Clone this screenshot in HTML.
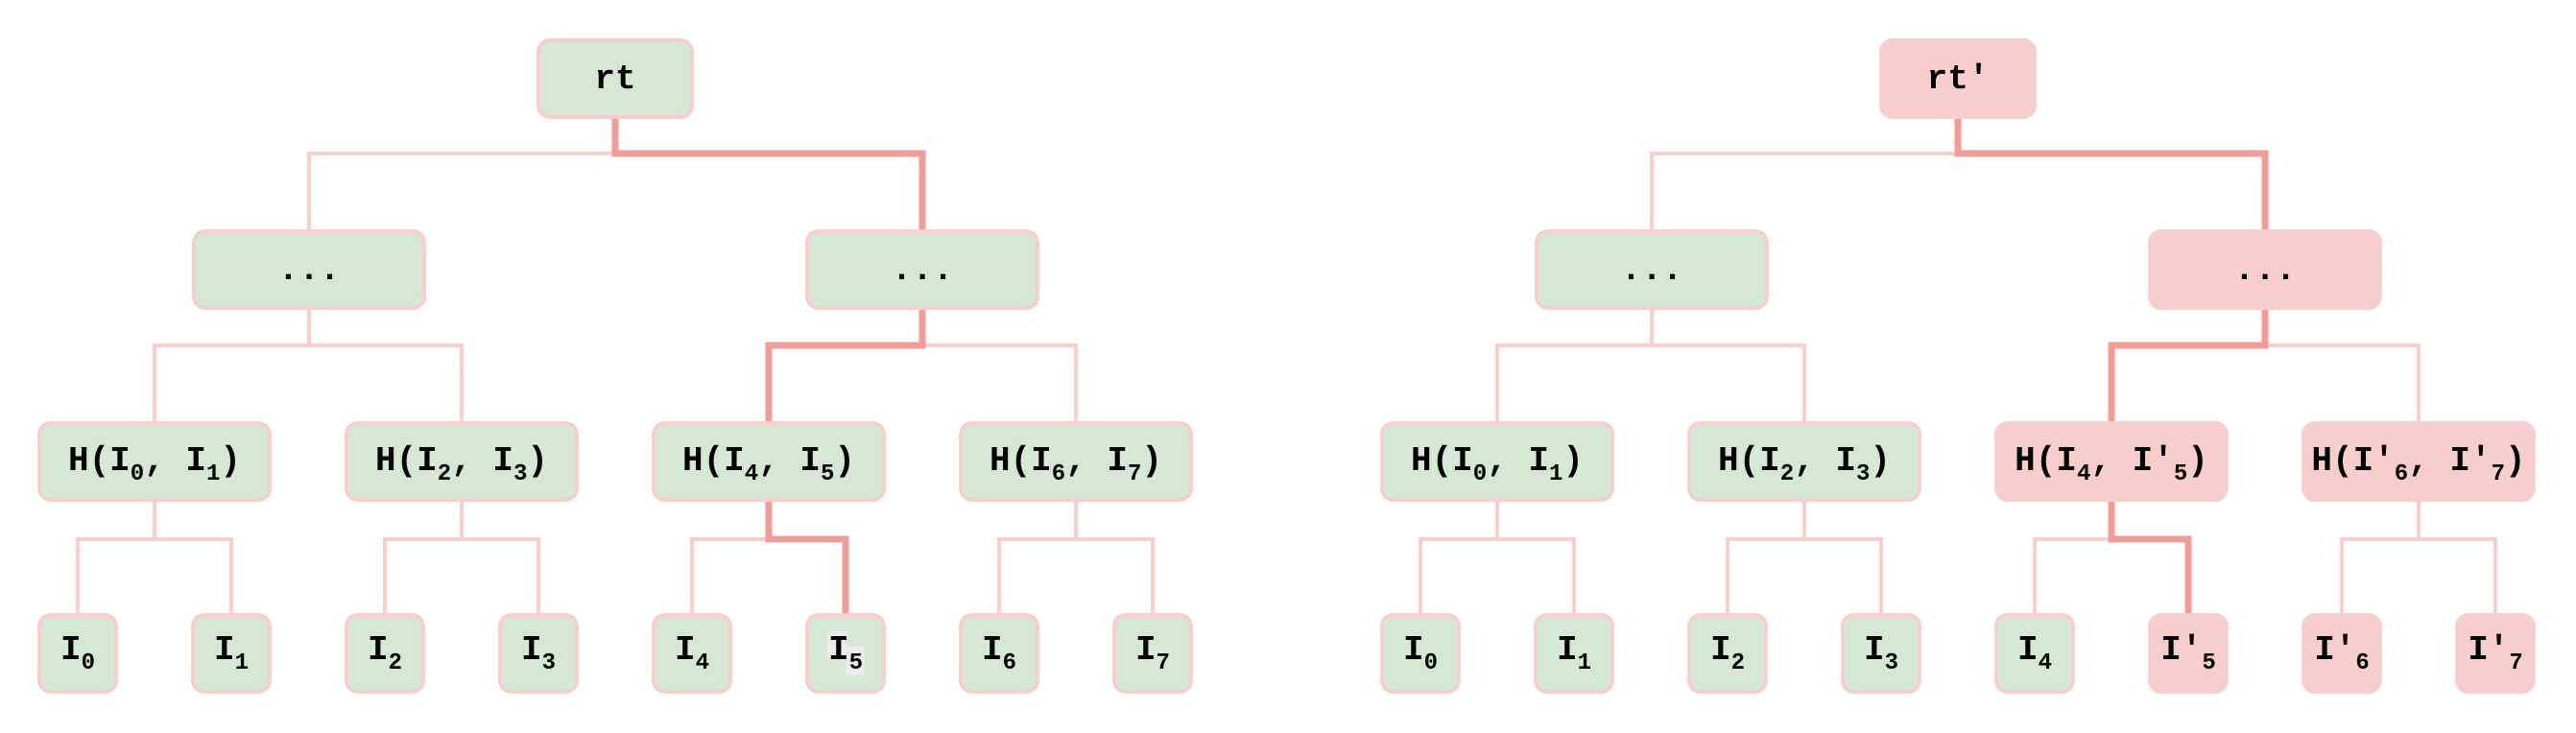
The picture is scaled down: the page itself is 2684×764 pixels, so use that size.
<!DOCTYPE html>
<html><head><meta charset="utf-8"><style>
html,body{margin:0;padding:0;background:#fff;}
svg{display:block;}
text{font-family:"Liberation Mono",monospace;font-weight:bold;font-size:36px;fill:#000;}
.s{font-size:24px;}
</style></head><body>
<svg width="2684" height="764" viewBox="0 0 2684 764" xmlns="http://www.w3.org/2000/svg">
<defs>
<g id="thin" fill="none" stroke="#f8cecc" stroke-width="4">
<path d="M641 122V160H322V241M641 160H961V241"/>
<path d="M322 321V360H161V441M322 360H481V441"/>
<path d="M961 321V360H801V441M961 360H1121V441"/>
<path d="M161 521V562H81V641M161 562H241V641"/>
<path d="M481 521V562H401V641M481 562H561V641"/>
<path d="M801 521V562H721V641M801 562H881V641"/>
<path d="M1121 521V562H1041V641M1121 562H1201V641"/>
</g>
<path id="thick" d="M641 122V160H961V241M961 321V360H801V441M801 521V562H881V641" fill="none" stroke="#f19c99" stroke-width="7"/>
</defs>
<use href="#thin"/><use href="#thick"/>
<use href="#thin" x="1399"/><use href="#thick" x="1399"/>
<g stroke="#f8cecc" stroke-width="4">
<!-- left tree -->
<rect x="561" y="42" width="160" height="80" rx="12" fill="#d5e8d4"/>
<rect x="202" y="241" width="240" height="80" rx="12" fill="#d5e8d4"/>
<rect x="841" y="241" width="240" height="80" rx="12" fill="#d5e8d4"/>
<rect x="41" y="441" width="240" height="80" rx="12" fill="#d5e8d4"/>
<rect x="361" y="441" width="240" height="80" rx="12" fill="#d5e8d4"/>
<rect x="681" y="441" width="240" height="80" rx="12" fill="#d5e8d4"/>
<rect x="1001" y="441" width="240" height="80" rx="12" fill="#d5e8d4"/>
<rect x="41" y="641" width="80" height="80" rx="12" fill="#d5e8d4"/>
<rect x="201" y="641" width="80" height="80" rx="12" fill="#d5e8d4"/>
<rect x="361" y="641" width="80" height="80" rx="12" fill="#d5e8d4"/>
<rect x="521" y="641" width="80" height="80" rx="12" fill="#d5e8d4"/>
<rect x="681" y="641" width="80" height="80" rx="12" fill="#d5e8d4"/>
<rect x="841" y="641" width="80" height="80" rx="12" fill="#d5e8d4"/>
<rect x="1001" y="641" width="80" height="80" rx="12" fill="#d5e8d4"/>
<rect x="1161" y="641" width="80" height="80" rx="12" fill="#d5e8d4"/>
<!-- right tree -->
<rect x="1960" y="42" width="160" height="80" rx="12" fill="#f8cecc"/>
<rect x="1601" y="241" width="240" height="80" rx="12" fill="#d5e8d4"/>
<rect x="2240" y="241" width="240" height="80" rx="12" fill="#f8cecc"/>
<rect x="1440" y="441" width="240" height="80" rx="12" fill="#d5e8d4"/>
<rect x="1760" y="441" width="240" height="80" rx="12" fill="#d5e8d4"/>
<rect x="2080" y="441" width="240" height="80" rx="12" fill="#f8cecc"/>
<rect x="2400" y="441" width="240" height="80" rx="12" fill="#f8cecc"/>
<rect x="1440" y="641" width="80" height="80" rx="12" fill="#d5e8d4"/>
<rect x="1600" y="641" width="80" height="80" rx="12" fill="#d5e8d4"/>
<rect x="1760" y="641" width="80" height="80" rx="12" fill="#d5e8d4"/>
<rect x="1920" y="641" width="80" height="80" rx="12" fill="#d5e8d4"/>
<rect x="2080" y="641" width="80" height="80" rx="12" fill="#d5e8d4"/>
<rect x="2240" y="641" width="80" height="80" rx="12" fill="#f8cecc"/>
<rect x="2400" y="641" width="80" height="80" rx="12" fill="#f8cecc"/>
<rect x="2560" y="641" width="80" height="80" rx="12" fill="#f8cecc"/>
</g>
<rect x="862" y="658" width="21" height="29" fill="#ebebeb"/>
<rect x="881" y="674" width="20" height="30" fill="#ebebeb"/>
<g text-anchor="middle">
<text x="641" y="92">rt</text>
<text x="322" y="291">...</text>
<text x="961" y="291">...</text>
<text x="161" y="490">H(I<tspan class="s" dy="10">0</tspan><tspan dy="-10">, I</tspan><tspan class="s" dy="10">1</tspan><tspan dy="-10">)</tspan></text>
<text x="481" y="490">H(I<tspan class="s" dy="10">2</tspan><tspan dy="-10">, I</tspan><tspan class="s" dy="10">3</tspan><tspan dy="-10">)</tspan></text>
<text x="801" y="490">H(I<tspan class="s" dy="10">4</tspan><tspan dy="-10">, I</tspan><tspan class="s" dy="10">5</tspan><tspan dy="-10">)</tspan></text>
<text x="1121" y="490">H(I<tspan class="s" dy="10">6</tspan><tspan dy="-10">, I</tspan><tspan class="s" dy="10">7</tspan><tspan dy="-10">)</tspan></text>
<text x="81" y="687">I<tspan class="s" dy="10">0</tspan></text>
<text x="241" y="687">I<tspan class="s" dy="10">1</tspan></text>
<text x="401" y="687">I<tspan class="s" dy="10">2</tspan></text>
<text x="561" y="687">I<tspan class="s" dy="10">3</tspan></text>
<text x="721" y="687">I<tspan class="s" dy="10">4</tspan></text>
<text x="881" y="687">I<tspan class="s" dy="10">5</tspan></text>
<text x="1041" y="687">I<tspan class="s" dy="10">6</tspan></text>
<text x="1201" y="687">I<tspan class="s" dy="10">7</tspan></text>

<text x="2040" y="92">rt'</text>
<text x="1721" y="291">...</text>
<text x="2360" y="291">...</text>
<text x="1560" y="490">H(I<tspan class="s" dy="10">0</tspan><tspan dy="-10">, I</tspan><tspan class="s" dy="10">1</tspan><tspan dy="-10">)</tspan></text>
<text x="1880" y="490">H(I<tspan class="s" dy="10">2</tspan><tspan dy="-10">, I</tspan><tspan class="s" dy="10">3</tspan><tspan dy="-10">)</tspan></text>
<text x="2200" y="490">H(I<tspan class="s" dy="10">4</tspan><tspan dy="-10">, I'</tspan><tspan class="s" dy="10">5</tspan><tspan dy="-10">)</tspan></text>
<text x="2520" y="490">H(I'<tspan class="s" dy="10">6</tspan><tspan dy="-10">, I'</tspan><tspan class="s" dy="10">7</tspan><tspan dy="-10">)</tspan></text>
<text x="1480" y="687">I<tspan class="s" dy="10">0</tspan></text>
<text x="1640" y="687">I<tspan class="s" dy="10">1</tspan></text>
<text x="1800" y="687">I<tspan class="s" dy="10">2</tspan></text>
<text x="1960" y="687">I<tspan class="s" dy="10">3</tspan></text>
<text x="2120" y="687">I<tspan class="s" dy="10">4</tspan></text>
<text x="2280" y="687">I'<tspan class="s" dy="10">5</tspan></text>
<text x="2440" y="687">I'<tspan class="s" dy="10">6</tspan></text>
<text x="2600" y="687">I'<tspan class="s" dy="10">7</tspan></text>
</g>
</svg>
</body></html>
